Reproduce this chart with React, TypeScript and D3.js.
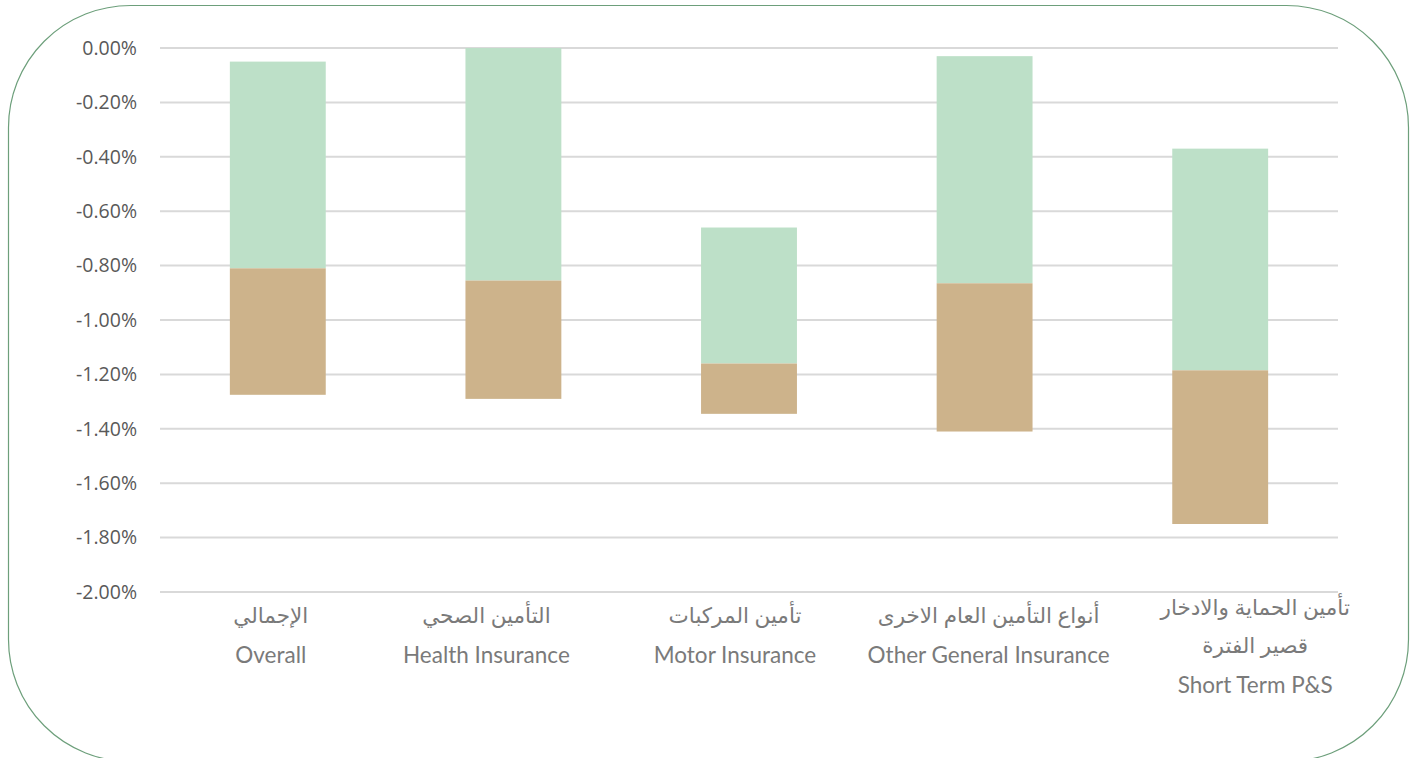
import React, { useEffect, useRef } from "react";
import * as d3 from "d3";

// categories (Arabic line(s) + English line)
const categoriesAr = [
  ["الإجمالي"],
  ["التأمين الصحي"],
  ["تأمين المركبات"],
  ["أنواع التأمين العام الاخرى"],
  ["تأمين الحماية والادخار", "قصير الفترة"],
];
const categoriesEn = [
  "Overall",
  "Health Insurance",
  "Motor Insurance",
  "Other General Insurance",
  "Short Term P&S",
];

// floating bar boundaries (%)
const topValues = [-0.05, 0.0, -0.66, -0.03, -0.37];
const midValues = [-0.81, -0.855, -1.16, -0.865, -1.185];
const bottomValues = [-1.275, -1.29, -1.345, -1.41, -1.75];

const yTicks = [0, -0.2, -0.4, -0.6, -0.8, -1.0, -1.2, -1.4, -1.6, -1.8, -2.0];

// label nudges seen in the source rendering
const labelShift = [-7, -27, -14, 4, 35];

export default function App() {
  const svgRef = useRef<SVGSVGElement>(null);

  useEffect(() => {
    const svg = d3.select(svgRef.current);
    svg.selectAll("*").remove();

    const left = 160;
    const right = 1338;
    const top = 48;
    const bottom = 592;

    const x = d3
      .scaleBand<number>()
      .domain(d3.range(categoriesEn.length))
      .range([left, right])
      .paddingInner(0.593)
      .paddingOuter(0.2965);

    const y = d3.scaleLinear().domain([0, -2]).range([top, bottom]);

    // --- FRAME ---
    svg
      .append("rect")
      .attr("x", 8.5)
      .attr("y", 5.5)
      .attr("width", 1400)
      .attr("height", 756)
      .attr("rx", 122)
      .attr("fill", "#fff")
      .attr("stroke", "#6d9f7b")
      .attr("stroke-width", 1.2);

    // --- GRID ---
    svg
      .append("g")
      .selectAll("line")
      .data(yTicks)
      .join("line")
      .attr("x1", left)
      .attr("x2", right)
      .attr("y1", (d) => y(d))
      .attr("y2", (d) => y(d))
      .attr("stroke", "#d9d9d9")
      .attr("stroke-width", 2);

    // --- Y TICK LABELS ---
    const fmt = (d: number) =>
      (Math.abs(d) < 1e-9 ? "0.00" : d.toFixed(2)) + "%";
    svg
      .append("g")
      .selectAll("text")
      .data(yTicks)
      .join("text")
      .attr("x", 137)
      .attr("y", (d) => y(d))
      .attr("dy", "0.35em")
      .attr("text-anchor", "end")
      .style("font-family", "'Open Sans', 'Noto Sans', sans-serif")
      .style("font-size", "19.5px")
      .style("fill", "#595959")
      .text(fmt);

    const idx = d3.range(categoriesEn.length);

    // --- GREEN SEGMENTS ---
    svg
      .append("g")
      .selectAll("rect")
      .data(idx)
      .join("rect")
      .attr("x", (i) => x(i)!)
      .attr("width", x.bandwidth())
      .attr("y", (i) => y(topValues[i]))
      .attr("height", (i) => y(midValues[i]) - y(topValues[i]))
      .attr("fill", "#bde0c8");

    // --- TAN SEGMENTS ---
    svg
      .append("g")
      .selectAll("rect")
      .data(idx)
      .join("rect")
      .attr("x", (i) => x(i)!)
      .attr("width", x.bandwidth())
      .attr("y", (i) => y(midValues[i]))
      .attr("height", (i) => y(bottomValues[i]) - y(midValues[i]))
      .attr("fill", "#cdb38b");

    // --- CATEGORY LABELS ---
    const lab = svg
      .append("g")
      .selectAll("g")
      .data(idx)
      .join("g")
      .attr(
        "transform",
        (i) => `translate(${x(i)! + x.bandwidth() / 2 + labelShift[i]},0)`
      );

    lab.each(function (i) {
      const g = d3.select(this);
      const ar = categoriesAr[i];
      const startY = ar.length > 1 ? 607 : 615;
      ar.forEach((line, k) => {
        g.append("text")
          .attr("y", startY + k * 38)
          .attr("dy", "0.35em")
          .attr("text-anchor", "middle")
          .attr("direction", "rtl")
          .style("font-family", "'Noto Sans', 'DejaVu Sans', sans-serif")
          .style("font-size", "21.5px")
          .style("fill", "#7a7a7a")
          .text(line);
      });
      g.append("text")
        .attr("y", startY + ar.length * 38 + 2)
        .attr("dy", "0.35em")
        .attr("text-anchor", "middle")
        .style("font-family", "'Lato', 'Noto Sans', sans-serif")
        .style("font-size", "22.5px")
        .style("fill", "#7a7a7a")
        .text(categoriesEn[i]);
    });
  }, []);

  return (
    <svg
      ref={svgRef}
      width={1418}
      height={758}
      style={{ position: "absolute", left: 0, top: 0, background: "#fff" }}
    ></svg>
  );
}
